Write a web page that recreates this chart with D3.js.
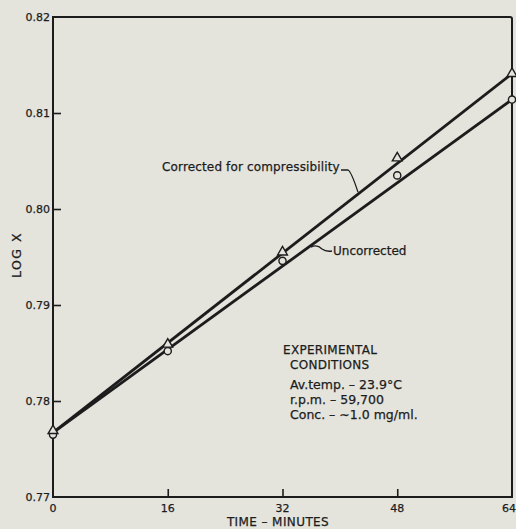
<!DOCTYPE html>
<html>
<head>
<meta charset="utf-8">
<script src="https://cdn.jsdelivr.net/npm/d3@7"></script>
<style>
  html, body { margin: 0; padding: 0; background: #e4e4dd; }
  svg { display: block; }
  text { font-family: "DejaVu Sans", "Liberation Sans", sans-serif; fill: #1c1c1c; stroke: #1c1c1c; stroke-width: 0.25; }
</style>
</head>
<body>
<svg id="chart" width="516" height="529"></svg>
<script>
// Sedimentation run: log x against time, with and without the compressibility correction
const timesMin = [0, 16, 32, 48, 64];
const logXCorrected = [0.7768, 0.7858, 0.7954, 0.8052, 0.8140];
const logXUncorrected = [0.7765, 0.7852, 0.7946, 0.8035, 0.8114];

// Fitted straight lines (value at t = 0 and t = 64)
const fitTimes = [0, 64];
const fitCorrected = [0.7767, 0.8141];
const fitUncorrected = [0.7767, 0.8114];

const xTicks = [0, 16, 32, 48, 64];
const yTicks = [0.77, 0.78, 0.79, 0.80, 0.81, 0.82];
const yTickLabels = ["0.77", "0.78", "0.79", "0.80", "0.81", "0.82"];

const conditionLines = ["Av.temp. \u2013 23.9\u00b0C", "r.p.m. \u2013 59,700", "Conc. \u2013 \u223c1.0 mg/ml."];

const svg = d3.select("#chart");
const ink = "#1c1c1c";
const bg = "#e4e4dd";

const x = d3.scaleLinear().domain([0, 64]).range([53, 512]);
const y = d3.scaleLinear().domain([0.77, 0.82]).range([497, 17]);

// Frame: left and bottom axes plus top and right border
svg.append("path")
  .attr("d", `M${x(0)},${y(0.82)} H${x(64) - 2} Q${x(64)},${y(0.82)} ${x(64)},${y(0.82) + 2} V${y(0.77)} H${x(0)} Z`)
  .attr("fill", "none").attr("stroke", ink).attr("stroke-width", 2);

// Inward ticks on the left axis
const yAxis = d3.axisRight(y).tickValues(yTicks.slice(1, -1)).tickSize(8).tickFormat("");
svg.append("g").attr("transform", `translate(${x(0)},0)`).call(yAxis)
  .call(g => g.select(".domain").remove())
  .call(g => g.selectAll("line").attr("stroke", ink).attr("stroke-width", 1.6));

// Inward ticks on the bottom axis
const xAxis = d3.axisTop(x).tickValues(xTicks.slice(1, -1)).tickSize(8).tickFormat("");
svg.append("g").attr("transform", `translate(0,${y(0.77)})`).call(xAxis)
  .call(g => g.select(".domain").remove())
  .call(g => g.selectAll("line").attr("stroke", ink).attr("stroke-width", 1.6));

// Y tick labels
svg.append("g").selectAll("text").data(yTicks).join("text")
  .attr("x", x(0) - 3).attr("y", d => y(d) + 4)
  .attr("text-anchor", "end").attr("font-size", 11)
  .text((d, i) => yTickLabels[i]);

// X tick labels (the last one kept inside the page edge)
svg.append("g").selectAll("text").data(xTicks).join("text")
  .attr("x", (d, i) => i === xTicks.length - 1 ? x(d) + 4 : x(d))
  .attr("y", y(0.77) + 15)
  .attr("text-anchor", (d, i) => i === xTicks.length - 1 ? "end" : "middle")
  .attr("font-size", 11)
  .text(d => d);

// Axis titles
svg.append("text").attr("x", 278).attr("y", 526)
  .attr("text-anchor", "middle").attr("font-size", 12).attr("letter-spacing", 0.4)
  .text("TIME \u2013 MINUTES");
svg.append("text").attr("transform", "translate(21,255) rotate(-90)")
  .attr("text-anchor", "middle").attr("font-size", 12.5).attr("letter-spacing", 1.5)
  .text("LOG X");

// Fitted lines
const line = d3.line().x(d => x(d[0])).y(d => y(d[1]));
[fitCorrected, fitUncorrected].forEach(fit => {
  svg.append("path")
    .datum(fitTimes.map((t, i) => [t, fit[i]]))
    .attr("d", line)
    .attr("fill", "none").attr("stroke", ink).attr("stroke-width", 2.8);
});

// Markers: circles for uncorrected, triangles for corrected
svg.append("g").selectAll("circle").data(timesMin).join("circle")
  .attr("cx", d => x(d)).attr("cy", (d, i) => y(logXUncorrected[i]))
  .attr("r", 3.6).attr("fill", bg).attr("stroke", ink).attr("stroke-width", 1.4);

const tri = d3.symbol().type(d3.symbolTriangle).size(42);
svg.append("g").selectAll("path").data(timesMin).join("path")
  .attr("transform", (d, i) => `translate(${x(d)},${y(logXCorrected[i]) - 1})`)
  .attr("d", tri).attr("fill", bg).attr("stroke", ink).attr("stroke-width", 1.4);

// Line labels with leader strokes
const fitAt = (fit, t) => fit[0] + (fit[1] - fit[0]) * t / 64;

svg.append("text").attr("x", 162).attr("y", 171).attr("font-size", 12)
  .attr("letter-spacing", 0.15)
  .text("Corrected for compressibility");
const tc = x.invert(358);
svg.append("path")
  .attr("d", `M341,170 L348,170 Q351,171 ${x(tc)},${y(fitAt(fitCorrected, tc)) - 2}`)
  .attr("fill", "none").attr("stroke", ink).attr("stroke-width", 1.3);

svg.append("text").attr("x", 333).attr("y", 255).attr("font-size", 12)
  .text("Uncorrected");
const tu = x.invert(310);
svg.append("path")
  .attr("d", `M${x(tu) + 1},${y(fitAt(fitUncorrected, tu)) + 1} Q317,244 322,249 Q326,252 332,251`)
  .attr("fill", "none").attr("stroke", ink).attr("stroke-width", 1.3);

// Experimental conditions block
svg.append("text").attr("x", 283).attr("y", 354).attr("font-size", 12).attr("letter-spacing", 0.3).text("EXPERIMENTAL");
svg.append("text").attr("x", 290).attr("y", 369).attr("font-size", 12).attr("letter-spacing", 0.3).text("CONDITIONS");
svg.append("g").selectAll("text").data(conditionLines).join("text")
  .attr("x", 290).attr("y", (d, i) => 389 + i * 15).attr("font-size", 12.5)
  .text(d => d);
</script>
</body>
</html>
